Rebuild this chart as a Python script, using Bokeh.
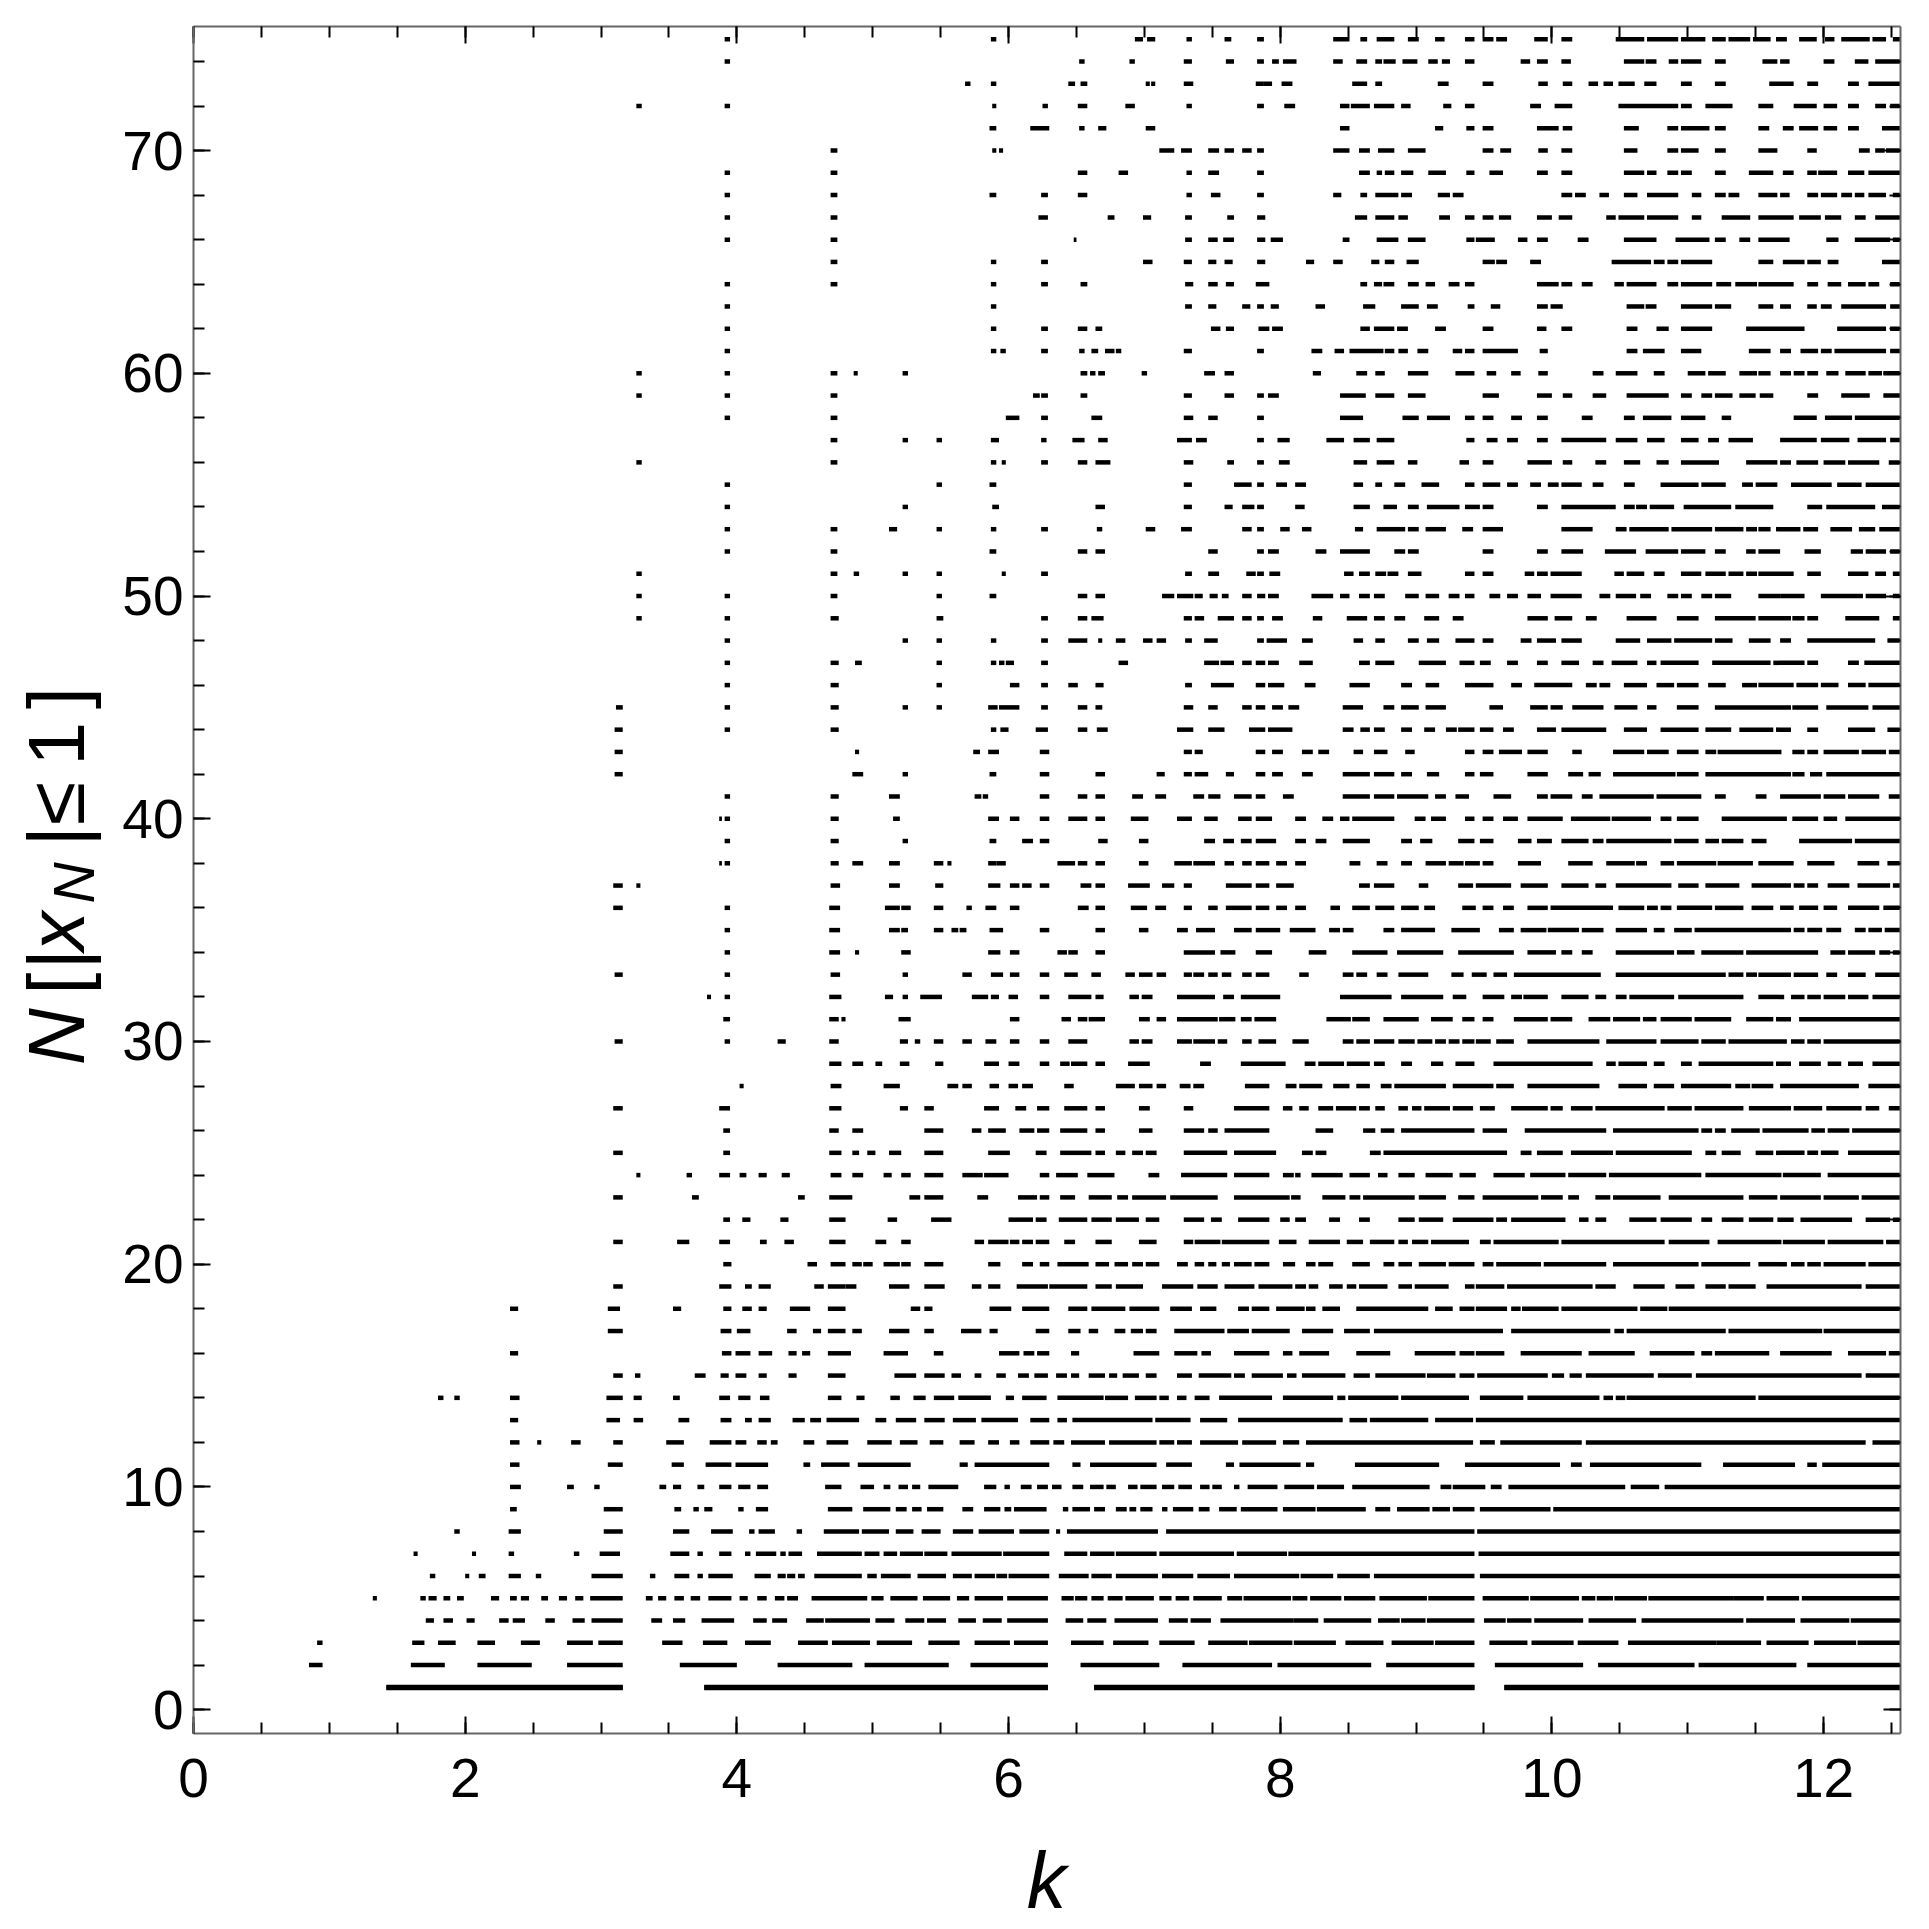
from bokeh.plotting import figure
from bokeh.layouts import row as hrow, column
from bokeh.core.properties import value
from bokeh.models import Range1d, FixedTicker, LinearAxis, ColumnDataSource
from bokeh.embed import file_html
from bokeh.resources import INLINE

x_ticks = [0, 2, 4, 6, 8, 10, 12]
x_minor = [0.5 * i for i in range(26)]
y_ticks = [0, 10, 20, 30, 40, 50, 60, 70]
y_minor = [2 * i for i in range(38)]
x_title = "k"

row_01 = [(1.42,3.16),(3.76,6.29),(6.63,9.43),(9.65,12.566)]
row_02 = [(0.85,0.95),(1.60,1.85),(2.09,2.49),(2.75,3.16),(3.58,4.0),(4.30,4.85),(4.94,5.56),(5.72,6.29),(6.53,7.11),(7.28,7.94),(7.98,8.67),(8.78,9.43),(9.58,10.23),(10.34,11.05),(11.08,11.80),(11.88,12.566)]
row_03 = [(0.91,0.95),(1.61,1.70),(1.80,1.93),(2.09,2.22),(2.41,2.55),(2.75,2.94),(2.98,3.16),(3.45,3.60),(3.75,3.93),(4.06,4.25),(4.45,4.67),(4.70,4.98),(5.03,5.29),(5.41,5.64),(5.75,6.01),(6.04,6.29),(6.46,6.70),(6.77,7.03),(7.11,7.37),(7.47,7.76),(7.77,8.09),(8.10,8.41),(8.48,8.76),(8.82,9.13),(9.14,9.43),(9.54,9.82),(9.85,10.16),(10.19,10.49),(10.56,11.21),(11.21,11.54),(11.58,11.89),(11.93,12.24),(12.25,12.566)]
row_04 = [(1.71,1.77),(1.84,1.91),(2.01,2.07),(2.25,2.32),(2.35,2.44),(2.59,2.66),(2.79,2.88),(2.93,3.16),(3.37,3.45),(3.53,3.62),(3.74,3.98),(4.12,4.22),(4.26,4.37),(4.51,4.64),(4.65,4.98),(5.02,5.16),(5.24,5.38),(5.40,5.54),(5.63,5.76),(5.81,5.95),(5.99,6.29),(6.42,6.55),(6.58,6.72),(6.78,7.10),(7.18,7.32),(7.34,7.49),(7.56,8.10),(8.10,8.28),(8.32,8.67),(8.72,8.88),(8.89,9.07),(9.08,9.43),(9.50,9.66),(9.67,9.85),(9.87,10.23),(10.27,10.62),(10.66,11.41),(11.43,11.79),(11.83,12.19),(12.20,12.566)]
row_05 = [(1.32,1.35),(1.67,1.71),(1.73,1.79),(1.84,1.89),(1.94,1.99),(2.19,2.25),(2.33,2.38),(2.41,2.47),(2.56,2.61),(2.69,2.75),(2.81,2.87),(2.92,3.16),(3.33,3.38),(3.42,3.48),(3.54,3.61),(3.66,3.73),(3.79,3.96),(4.02,4.08),(4.15,4.22),(4.28,4.35),(4.37,4.45),(4.55,4.96),(4.99,5.08),(5.13,5.33),(5.37,5.57),(5.62,5.71),(5.75,5.96),(5.99,6.29),(6.39,6.48),(6.49,6.58),(6.61,6.70),(6.73,6.84),(6.86,7.07),(7.11,7.20),(7.23,7.33),(7.36,7.57),(7.61,7.72),(7.73,8.08),(8.09,8.20),(8.22,8.45),(8.47,8.70),(8.73,9.08),(9.09,9.43),(9.49,9.83),(9.84,10.20),(10.22,10.32),(10.33,10.45),(10.46,10.70),(10.71,11.34),(11.34,11.56),(11.58,11.82),(11.84,12.566)]
row_06 = [(1.74,1.78),(2.0,2.03),(2.10,2.15),(2.32,2.41),(2.52,2.56),(2.93,3.16),(3.36,3.40),(3.54,3.65),(3.71,3.75),(3.79,3.97),(4.13,4.25),(4.30,4.36),(4.37,4.43),(4.45,4.50),(4.57,4.92),(4.96,5.03),(5.06,5.28),(5.33,5.54),(5.59,5.73),(5.75,5.90),(5.91,5.99),(6.0,6.30),(6.37,6.59),(6.61,6.76),(6.79,7.10),(7.13,7.36),(7.39,7.63),(7.66,8.14),(8.15,8.39),(8.42,8.66),(8.69,9.43),(9.47,12.566)]
row_07 = [(1.62,1.65),(2.05,2.08),(2.32,2.36),(2.80,2.84),(2.99,3.14),(3.51,3.65),(3.71,3.75),(3.87,3.96),(4.06,4.10),(4.14,4.29),(4.32,4.36),(4.38,4.48),(4.59,4.92),(4.94,5.05),(5.08,5.18),(5.20,5.37),(5.38,5.55),(5.58,5.95),(5.96,6.30),(6.41,6.58),(6.60,6.78),(6.79,7.09),(7.11,7.66),(7.68,8.05),(8.06,9.43),(9.46,12.566)]
row_08 = [(1.92,1.96),(2.32,2.41),(3.02,3.16),(3.53,3.65),(3.81,3.97),(4.09,4.13),(4.16,4.28),(4.44,4.48),(4.64,4.90),(4.92,5.12),(5.17,5.30),(5.36,5.50),(5.59,5.74),(5.78,6.04),(6.08,6.30),(6.35,6.38),(6.43,7.10),(7.16,9.43),(9.45,12.566)]
row_09 = [(2.33,2.38),(3.02,3.16),(3.54,3.59),(3.68,3.72),(3.76,3.82),(4.01,4.05),(4.14,4.23),(4.67,4.85),(4.93,5.13),(5.17,5.25),(5.29,5.36),(5.40,5.52),(5.66,5.74),(5.82,5.94),(5.97,6.02),(6.04,6.28),(6.40,6.44),(6.47,6.60),(6.63,6.71),(6.79,6.87),(6.89,6.94),(6.97,7.06),(7.13,7.17),(7.21,7.36),(7.40,7.48),(7.55,7.68),(7.71,7.98),(8.02,8.26),(8.27,8.63),(8.70,8.81),(8.86,9.10),(9.12,9.25),(9.27,9.43),(9.47,9.99),(10.01,12.566)]
row_10 = [(2.33,2.41),(2.75,2.80),(2.95,2.99),(3.43,3.48),(3.53,3.59),(3.71,3.76),(3.87,3.96),(4.01,4.10),(4.15,4.23),(4.65,4.77),(4.91,5.01),(5.08,5.13),(5.19,5.26),(5.29,5.35),(5.41,5.63),(5.82,5.91),(5.97,6.01),(6.09,6.17),(6.21,6.29),(6.32,6.39),(6.47,6.55),(6.60,6.70),(6.72,6.79),(6.88,6.95),(6.97,7.09),(7.13,7.22),(7.25,7.35),(7.41,7.48),(7.50,7.57),(7.66,7.70),(7.76,7.98),(8.03,8.25),(8.27,8.47),(8.53,9.10),(9.18,9.26),(9.27,9.51),(9.55,9.63),(9.68,10.54),(10.58,10.79),(10.83,12.566)]
row_11 = [(2.33,2.40),(3.05,3.16),(3.52,3.61),(3.77,3.96),(3.99,4.23),(4.49,4.54),(4.62,4.83),(4.89,5.28),(5.64,5.70),(5.75,6.30),(6.47,6.53),(6.60,7.09),(7.16,7.35),(7.60,7.66),(7.70,8.15),(8.19,8.25),(8.55,9.17),(9.36,10.06),(10.14,10.22),(10.28,11.10),(11.26,11.79),(11.88,11.95),(11.99,12.566)]
row_12 = [(2.33,2.40),(2.53,2.56),(2.78,2.85),(3.09,3.16),(3.48,3.61),(3.80,3.96),(3.99,4.07),(4.15,4.22),(4.25,4.30),(4.49,4.57),(4.66,4.82),(4.96,5.14),(5.20,5.33),(5.42,5.52),(5.64,5.75),(5.85,5.93),(6.01,6.08),(6.16,6.30),(6.33,6.41),(6.46,6.71),(6.74,7.09),(7.11,7.22),(7.24,7.35),(7.41,7.69),(7.72,7.97),(8.02,8.14),(8.19,9.42),(9.47,9.58),(9.62,10.22),(10.25,12.31),(12.36,12.566)]
row_13 = [(2.33,2.39),(3.04,3.14),(3.24,3.31),(3.57,3.65),(3.88,3.96),(4.06,4.11),(4.16,4.25),(4.41,4.50),(4.54,4.62),(4.66,4.90),(5.02,5.10),(5.17,5.32),(5.38,5.53),(5.59,5.76),(5.80,6.07),(6.16,6.30),(6.36,6.43),(6.47,7.06),(7.08,7.34),(7.41,7.61),(7.69,8.46),(8.51,8.64),(8.66,9.09),(9.14,9.42),(9.44,12.566)]
row_14 = [(1.80,1.84),(1.92,1.96),(2.33,2.40),(3.04,3.16),(3.24,3.30),(3.53,3.58),(3.87,3.95),(4.01,4.10),(4.17,4.24),(4.67,4.77),(4.88,4.94),(5.13,5.20),(5.30,5.39),(5.45,5.60),(5.63,5.87),(5.98,6.04),(6.10,6.28),(6.36,6.70),(6.71,6.88),(6.93,7.09),(7.11,7.18),(7.24,7.31),(7.37,7.48),(7.55,7.94),(8.02,8.39),(8.42,8.48),(8.50,8.87),(8.89,9.39),(9.47,9.79),(9.82,10.35),(10.38,10.45),(10.47,10.54),(10.55,11.50),(11.52,12.566)]
row_15 = [(3.09,3.16),(3.25,3.29),(3.69,3.77),(3.88,3.94),(3.99,4.07),(4.16,4.22),(4.38,4.44),(4.67,4.80),(5.16,5.32),(5.38,5.53),(5.58,5.65),(5.75,5.80),(5.91,5.98),(6.07,6.15),(6.19,6.29),(6.35,6.43),(6.46,6.52),(6.59,6.71),(6.74,6.80),(6.84,6.96),(7.01,7.09),(7.24,7.35),(7.40,7.64),(7.66,7.74),(7.79,8.02),(8.05,8.12),(8.16,8.48),(8.54,8.66),(8.70,9.07),(9.08,9.29),(9.32,9.43),(9.45,9.97),(10.0,10.09),(10.13,10.22),(10.25,10.75),(10.78,11.03),(11.06,12.28),(12.31,12.566)]
row_16 = [(2.33,2.39),(3.89,3.96),(3.99,4.10),(4.16,4.26),(4.38,4.44),(4.48,4.54),(4.67,4.84),(5.08,5.26),(5.45,5.52),(5.93,6.08),(6.11,6.19),(6.21,6.30),(6.46,6.52),(6.92,7.11),(7.22,7.39),(7.42,7.49),(7.66,7.92),(8.02,8.09),(8.14,8.36),(8.56,8.81),(8.99,9.29),(9.32,9.43),(9.44,9.65),(9.77,10.22),(10.27,10.61),(10.72,11.05),(11.10,11.18),(11.20,11.60),(11.68,12.06),(12.18,12.46),(12.48,12.566)]
row_17 = [(3.05,3.16),(3.88,3.96),(4.0,4.10),(4.37,4.44),(4.56,4.62),(4.67,4.80),(4.85,4.92),(5.12,5.27),(5.38,5.45),(5.65,5.80),(5.86,5.92),(6.20,6.30),(6.44,6.53),(6.59,6.66),(6.78,6.86),(6.90,6.99),(7.01,7.09),(7.22,7.59),(7.61,7.77),(7.79,8.07),(8.16,8.39),(8.47,8.66),(8.69,9.64),(9.70,10.43),(10.46,10.53),(10.55,11.28),(11.30,11.99),(12.0,12.566)]
row_18 = [(2.33,2.39),(3.05,3.14),(3.53,3.59),(3.90,3.96),(4.04,4.11),(4.16,4.22),(4.39,4.54),(4.67,4.80),(5.28,5.35),(5.38,5.44),(5.86,6.02),(6.10,6.30),(6.44,6.58),(6.61,6.86),(6.89,7.11),(7.19,7.35),(7.41,7.53),(7.69,7.77),(7.79,7.92),(7.97,8.18),(8.19,8.26),(8.31,8.44),(8.56,9.09),(9.14,9.27),(9.32,9.43),(9.44,9.67),(9.70,9.77),(9.78,10.05),(10.07,10.63),(10.65,10.85),(10.86,12.566)]
row_19 = [(3.09,3.16),(3.87,3.96),(4.06,4.11),(4.16,4.25),(4.57,4.64),(4.67,4.80),(4.80,4.88),(5.12,5.27),(5.38,5.53),(5.73,5.80),(5.85,5.94),(6.06,6.29),(6.30,6.58),(6.64,6.76),(6.79,6.99),(7.13,7.36),(7.39,7.54),(7.59,7.81),(7.84,8.09),(8.11,8.19),(8.21,8.28),(8.36,8.46),(8.49,8.56),(8.58,8.79),(8.87,8.97),(8.99,9.24),(9.36,9.43),(9.44,9.65),(9.67,10.30),(10.32,10.47),(10.60,10.83),(10.91,11.05),(11.13,11.28),(11.30,11.50),(11.58,12.28),(12.31,12.566)]
row_20 = [(3.90,3.96),(4.52,4.59),(4.69,4.80),(4.85,4.92),(4.93,5.0),(5.08,5.20),(5.21,5.28),(5.38,5.52),(5.85,5.94),(6.10,6.18),(6.23,6.30),(6.36,6.59),(6.64,6.74),(6.78,6.88),(6.91,6.99),(7.01,7.11),(7.24,7.32),(7.37,7.44),(7.47,7.53),(7.57,7.63),(7.66,7.79),(7.81,7.92),(8.02,8.11),(8.19,8.26),(8.28,8.39),(8.53,8.66),(8.76,8.84),(8.87,8.97),(9.02,9.22),(9.24,9.43),(9.49,9.57),(9.59,9.92),(9.94,10.40),(10.45,11.08),(11.10,11.46),(11.52,11.73),(11.76,11.86),(11.88,11.98),(12.0,12.31),(12.33,12.566)]
row_21 = [(3.09,3.16),(3.56,3.65),(3.87,3.95),(4.17,4.22),(4.35,4.42),(4.68,4.80),(5.02,5.10),(5.21,5.28),(5.75,5.82),(5.85,6.0),(6.01,6.08),(6.10,6.18),(6.20,6.30),(6.41,6.49),(6.64,6.76),(6.96,7.09),(7.29,7.36),(7.37,7.56),(7.57,7.92),(7.99,8.12),(8.21,8.44),(8.49,8.61),(8.66,8.84),(8.87,8.94),(8.97,9.09),(9.11,9.39),(9.47,9.55),(9.57,10.05),(10.07,10.83),(10.86,11.16),(11.22,11.69),(11.70,12.01),(12.03,12.44),(12.46,12.566)]
row_22 = [(3.90,3.95),(4.04,4.10),(4.32,4.38),(4.68,4.80),(5.11,5.18),(5.43,5.58),(6.0,6.18),(6.20,6.28),(6.37,6.58),(6.61,6.76),(6.79,6.96),(7.01,7.11),(7.29,7.44),(7.49,7.57),(7.69,7.92),(8.0,8.07),(8.11,8.19),(8.36,8.44),(8.58,8.66),(8.87,8.99),(9.02,9.20),(9.27,9.57),(9.59,9.67),(9.70,10.10),(10.20,10.27),(10.32,10.40),(10.57,10.77),(10.80,11.03),(11.10,11.18),(11.25,11.41),(11.45,11.63),(11.66,11.78),(11.83,12.21),(12.31,12.49),(12.51,12.566)]
row_23 = [(3.09,3.16),(3.67,3.72),(4.45,4.50),(4.68,4.85),(5.27,5.35),(5.38,5.52),(5.77,5.85),(6.07,6.21),(6.23,6.30),(6.38,6.49),(6.59,6.76),(6.80,6.88),(6.91,7.16),(7.19,7.54),(7.66,8.07),(8.08,8.15),(8.31,8.48),(8.51,8.59),(8.61,8.99),(9.02,9.22),(9.31,9.43),(9.49,9.90),(9.92,10.08),(10.12,10.20),(10.32,10.43),(10.45,10.80),(10.86,11.41),(11.45,11.66),(11.68,11.98),(12.0,12.26),(12.28,12.566)]
row_24 = [(3.26,3.29),(3.63,3.67),(3.87,3.95),(4.02,4.07),(4.16,4.22),(4.33,4.39),(4.69,4.77),(4.85,4.93),(5.08,5.14),(5.21,5.28),(5.38,5.52),(5.66,5.81),(5.82,6.0),(6.23,6.30),(6.35,6.51),(6.58,6.78),(7.03,7.11),(7.27,7.61),(7.66,7.92),(8.02,8.10),(8.11,8.15),(8.23,8.46),(8.51,8.66),(8.72,8.79),(8.87,8.99),(9.07,9.27),(9.32,9.44),(9.57,9.80),(9.84,10.10),(10.12,10.40),(10.42,11.10),(11.13,11.69),(11.70,11.98),(12.03,12.566)]
row_25 = [(3.09,3.16),(3.90,3.95),(4.68,4.77),(4.85,4.90),(4.96,5.02),(5.12,5.21),(5.38,5.52),(5.85,6.01),(6.20,6.28),(6.38,6.61),(6.64,6.71),(6.79,6.86),(6.91,6.99),(7.01,7.09),(7.29,7.61),(7.66,7.97),(8.16,8.24),(8.26,8.34),(8.66,8.74),(8.76,9.67),(9.77,9.85),(9.89,10.08),(10.14,10.45),(10.47,11.03),(11.13,11.21),(11.25,11.39),(11.50,11.63),(11.65,11.86),(11.88,11.96),(11.98,12.11),(12.18,12.566)]
row_26 = [(3.90,3.95),(4.68,4.75),(4.85,4.93),(5.38,5.52),(5.73,5.80),(5.85,5.98),(6.08,6.19),(6.21,6.30),(6.38,6.58),(6.64,6.71),(6.96,7.06),(7.29,7.44),(7.47,7.54),(7.59,7.92),(8.26,8.39),(8.61,8.70),(8.74,8.84),(8.89,9.43),(9.49,9.67),(9.80,10.40),(10.45,11.08),(11.10,11.18),(11.20,11.28),(11.32,11.53),(11.55,11.89),(11.91,12.01),(12.03,12.19),(12.21,12.566)]
row_27 = [(3.09,3.16),(3.87,3.95),(4.68,4.77),(5.20,5.26),(5.38,5.45),(5.82,5.93),(6.05,6.13),(6.21,6.30),(6.41,6.58),(6.64,6.71),(6.96,7.04),(7.29,7.36),(7.66,7.92),(8.02,8.09),(8.14,8.21),(8.28,8.39),(8.41,8.56),(8.58,8.66),(8.70,8.77),(8.87,8.94),(8.97,9.04),(9.06,9.25),(9.27,9.42),(9.47,9.58),(9.70,9.97),(9.99,10.08),(10.14,10.30),(10.32,10.83),(10.85,11.03),(11.05,11.41),(11.45,11.76),(11.78,11.99),(12.02,12.28),(12.31,12.41),(12.48,12.566)]
row_28 = [(4.02,4.05),(4.69,4.77),(5.08,5.20),(5.55,5.63),(5.66,5.73),(5.86,5.93),(6.0,6.07),(6.10,6.18),(6.41,6.48),(6.79,6.93),(6.96,7.06),(7.09,7.16),(7.26,7.34),(7.36,7.44),(7.74,7.92),(8.04,8.12),(8.14,8.31),(8.39,8.51),(8.56,8.66),(8.74,8.82),(8.84,9.22),(9.27,9.57),(9.59,9.72),(9.82,10.35),(10.49,10.70),(10.75,10.90),(10.95,11.32),(11.35,11.46),(11.47,11.63),(11.68,12.26),(12.33,12.566)]
row_29 = [(4.68,4.77),(4.85,4.93),(5.02,5.07),(5.20,5.27),(5.46,5.52),(5.82,5.93),(6.0,6.08),(6.23,6.30),(6.38,6.45),(6.46,6.58),(6.64,6.71),(6.88,7.04),(7.41,7.49),(7.71,8.04),(8.18,8.26),(8.28,8.47),(8.49,8.66),(8.69,8.77),(8.89,8.97),(9.11,9.20),(9.29,9.43),(9.57,10.30),(10.40,10.47),(10.49,10.70),(10.75,10.83),(10.95,11.03),(11.08,11.63),(11.65,11.76),(11.82,11.98),(12.03,12.13),(12.18,12.29),(12.36,12.566)]
row_30 = [(3.10,3.16),(3.91,3.95),(4.30,4.36),(4.68,4.75),(5.20,5.26),(5.31,5.35),(5.45,5.52),(5.66,5.73),(5.83,5.91),(6.01,6.08),(6.23,6.30),(6.44,6.58),(6.89,6.96),(6.98,7.06),(7.24,7.35),(7.36,7.52),(7.54,7.61),(7.72,7.79),(7.84,7.97),(8.09,8.21),(8.46,8.54),(8.56,8.66),(8.69,8.84),(8.87,8.99),(9.01,9.12),(9.14,9.22),(9.24,9.32),(9.34,9.43),(9.44,9.55),(9.59,9.72),(9.82,10.35),(10.40,10.77),(10.80,11.08),(11.10,11.28),(11.30,11.73),(11.76,11.86),(11.88,11.98),(12.0,12.566)]
row_31 = [(3.90,3.95),(4.68,4.75),(4.77,4.80),(5.19,5.28),(6.01,6.08),(6.39,6.46),(6.51,6.58),(6.59,6.71),(6.96,7.04),(7.09,7.16),(7.24,7.54),(7.55,7.67),(7.71,7.79),(7.81,7.97),(8.34,8.52),(8.53,8.66),(8.76,9.02),(9.11,9.27),(9.34,9.43),(9.49,9.57),(9.72,9.97),(9.99,10.15),(10.27,10.43),(10.45,10.65),(10.67,10.77),(10.80,11.03),(11.05,11.32),(11.43,11.63),(11.65,11.76),(11.82,12.566)]
row_32 = [(3.78,3.81),(3.91,3.95),(4.68,4.77),(5.09,5.15),(5.22,5.26),(5.35,5.51),(5.73,5.85),(5.87,5.93),(6.0,6.07),(6.23,6.30),(6.44,6.61),(6.64,6.70),(6.89,6.96),(6.98,7.06),(7.24,7.52),(7.58,7.66),(7.71,8.0),(8.44,8.82),(8.89,9.20),(9.27,9.37),(9.49,9.65),(9.70,9.78),(9.79,9.97),(10.07,10.27),(10.32,10.40),(10.47,10.55),(10.57,10.90),(10.93,11.41),(11.52,11.71),(11.76,11.86),(11.88,11.98),(12.0,12.16),(12.18,12.33),(12.36,12.566)]
row_33 = [(3.10,3.16),(3.91,3.95),(4.69,4.76),(5.22,5.26),(5.66,5.73),(5.87,5.96),(6.01,6.08),(6.23,6.30),(6.41,6.51),(6.61,6.68),(6.86,6.93),(6.96,7.06),(7.09,7.16),(7.29,7.35),(7.36,7.44),(7.47,7.54),(7.57,7.64),(7.72,7.79),(7.82,7.92),(8.14,8.21),(8.46,8.54),(8.56,8.64),(8.71,8.79),(8.87,9.09),(9.26,9.35),(9.41,9.52),(9.57,9.67),(9.72,10.36),(10.47,11.28),(11.30,11.41),(11.43,11.51),(11.52,11.76),(11.78,11.96),(12.02,12.10),(12.18,12.31),(12.38,12.566)]
row_34 = [(3.91,3.95),(4.68,4.76),(4.87,4.90),(5.21,5.28),(5.85,5.94),(6.01,6.08),(6.36,6.43),(6.44,6.51),(6.64,6.71),(7.29,7.52),(7.56,7.67),(7.82,7.94),(8.21,8.34),(8.53,8.79),(8.86,9.20),(9.31,9.72),(9.82,10.03),(10.07,10.15),(10.22,10.30),(10.47,10.90),(10.92,11.05),(11.10,11.41),(11.43,11.96),(12.05,12.16),(12.18,12.38),(12.41,12.49),(12.51,12.566)]
row_35 = [(3.91,3.95),(4.68,4.76),(5.12,5.20),(5.21,5.26),(5.45,5.52),(5.58,5.63),(5.64,5.69),(5.86,5.96),(6.23,6.30),(6.64,6.71),(6.96,7.03),(7.24,7.32),(7.38,7.52),(7.66,7.79),(7.82,8.0),(8.07,8.26),(8.36,8.44),(8.46,8.54),(8.76,8.84),(8.89,9.14),(9.26,9.47),(9.61,9.72),(9.77,9.96),(9.97,10.20),(10.22,10.38),(10.47,10.70),(10.75,10.83),(10.90,11.03),(11.05,11.76),(11.78,11.86),(11.88,11.99),(12.02,12.13),(12.23,12.31),(12.33,12.43),(12.45,12.566)]
row_36 = [(3.09,3.16),(3.91,3.95),(4.68,4.76),(5.09,5.20),(5.21,5.28),(5.45,5.52),(5.69,5.73),(5.83,5.91),(6.01,6.08),(6.51,6.59),(6.64,6.71),(6.90,7.02),(7.08,7.16),(7.29,7.35),(7.47,7.54),(7.60,7.79),(7.82,7.92),(7.97,8.05),(8.11,8.19),(8.37,8.44),(8.53,8.66),(8.70,8.84),(8.89,9.02),(9.06,9.14),(9.34,9.44),(9.49,9.57),(9.64,9.72),(9.82,9.97),(9.99,10.45),(10.49,10.68),(10.70,10.78),(10.80,10.88),(10.92,11.18),(11.20,11.41),(11.47,11.63),(11.68,11.78),(11.82,11.96),(12.0,12.10),(12.18,12.41),(12.44,12.566)]
row_37 = [(3.09,3.16),(3.26,3.29),(4.69,4.76),(5.12,5.20),(5.46,5.52),(5.85,5.94),(6.01,6.08),(6.10,6.17),(6.23,6.30),(6.53,6.61),(6.64,6.71),(6.88,7.04),(7.13,7.22),(7.29,7.35),(7.60,7.79),(7.82,7.92),(7.97,8.10),(8.58,8.66),(8.69,8.84),(9.02,9.09),(9.31,9.42),(9.44,9.70),(9.77,9.97),(10.07,10.27),(10.32,10.40),(10.47,10.88),(10.93,11.08),(11.13,11.38),(11.47,11.76),(11.78,11.86),(11.88,11.96),(12.03,12.19),(12.25,12.49),(12.51,12.566)]
row_38 = [(3.87,3.89),(3.91,3.95),(4.69,4.75),(4.85,4.93),(5.12,5.20),(5.45,5.52),(5.55,5.58),(5.85,5.91),(5.91,5.98),(6.36,6.49),(6.51,6.58),(6.64,6.71),(6.96,7.03),(7.22,7.35),(7.36,7.52),(7.59,7.66),(7.72,7.79),(7.82,7.92),(7.97,8.05),(8.11,8.19),(8.51,8.59),(8.71,8.79),(8.89,8.97),(9.07,9.22),(9.24,9.35),(9.36,9.47),(9.49,9.57),(9.75,9.92),(10.12,10.30),(10.40,10.61),(10.62,10.70),(10.80,10.90),(10.92,11.21),(11.22,11.48),(11.52,11.78),(11.88,12.08),(12.25,12.41),(12.47,12.566)]
row_39 = [(3.91,3.95),(4.69,4.75),(5.22,5.26),(5.86,5.91),(6.10,6.18),(6.23,6.30),(6.66,6.73),(6.96,7.03),(7.44,7.52),(7.58,7.66),(7.71,7.79),(7.82,7.97),(8.11,8.19),(8.26,8.34),(8.46,8.66),(8.89,8.97),(9.03,9.12),(9.31,9.43),(9.47,9.57),(9.75,9.85),(9.89,10.0),(10.07,10.27),(10.30,10.38),(10.40,10.88),(10.90,11.08),(11.13,11.23),(11.25,11.41),(11.47,11.58),(11.82,12.21),(12.23,12.566)]
row_40 = [(3.87,3.89),(3.91,3.95),(4.69,4.75),(5.15,5.20),(5.85,5.93),(6.01,6.08),(6.23,6.30),(6.44,6.58),(6.64,6.71),(6.90,7.03),(7.24,7.35),(7.44,7.54),(7.69,7.79),(7.82,7.94),(8.11,8.19),(8.31,8.39),(8.44,8.51),(8.53,8.84),(8.99,9.07),(9.11,9.22),(9.36,9.43),(9.49,9.57),(9.64,9.75),(9.82,10.08),(10.14,10.43),(10.44,10.73),(10.80,10.88),(10.92,11.08),(11.25,11.73),(11.77,11.96),(12.0,12.10),(12.16,12.566)]
row_41 = [(3.91,3.95),(4.69,4.75),(5.12,5.20),(5.75,5.80),(5.81,5.85),(6.23,6.30),(6.51,6.58),(6.64,6.71),(6.91,6.99),(7.08,7.16),(7.36,7.44),(7.47,7.56),(7.66,7.79),(7.82,7.89),(8.02,8.10),(8.46,8.66),(8.69,8.84),(8.86,9.09),(9.14,9.22),(9.29,9.39),(9.57,9.70),(9.89,9.97),(9.99,10.15),(10.22,10.30),(10.35,10.75),(10.77,11.10),(11.20,11.28),(11.50,11.58),(11.68,11.98),(12.0,12.16),(12.18,12.41),(12.48,12.566)]
row_42 = [(3.10,3.16),(4.85,4.93),(5.22,5.26),(5.86,5.91),(6.23,6.30),(6.64,6.71),(7.09,7.15),(7.29,7.35),(7.37,7.47),(7.60,7.66),(7.82,7.89),(7.94,8.02),(8.16,8.24),(8.46,8.66),(8.69,8.84),(8.89,8.97),(9.08,9.17),(9.36,9.43),(9.47,9.57),(9.82,9.97),(10.12,10.23),(10.27,10.36),(10.45,10.91),(10.92,11.08),(11.13,11.76),(11.77,11.86),(11.90,11.99),(12.02,12.566)]
row_43 = [(3.10,3.16),(4.87,4.90),(5.74,5.79),(5.85,5.93),(6.23,6.30),(7.29,7.35),(7.37,7.43),(7.82,7.89),(7.94,8.02),(8.16,8.24),(8.28,8.36),(8.54,8.61),(8.69,8.79),(8.92,8.99),(9.36,9.43),(9.49,9.57),(9.61,9.78),(9.82,9.97),(10.15,10.22),(10.45,10.68),(10.70,10.86),(10.92,11.08),(11.13,11.21),(11.22,11.69),(11.77,11.86),(11.88,11.96),(12.0,12.26),(12.28,12.46),(12.48,12.566)]
row_44 = [(3.10,3.16),(3.91,3.95),(4.69,4.75),(5.87,5.91),(5.94,6.0),(6.20,6.29),(6.51,6.58),(6.65,6.73),(7.24,7.36),(7.47,7.59),(7.77,7.89),(7.91,8.09),(8.46,8.54),(8.59,8.66),(8.69,8.77),(8.89,8.97),(9.06,9.14),(9.22,9.30),(9.31,9.43),(9.47,9.57),(9.64,9.72),(9.89,10.03),(10.07,10.40),(10.53,10.70),(10.80,11.08),(11.13,11.32),(11.38,11.63),(11.65,11.76),(11.88,11.96),(12.18,12.38),(12.47,12.566)]
row_45 = [(3.11,3.16),(3.91,3.95),(4.69,4.75),(5.22,5.26),(5.47,5.51),(5.85,5.92),(5.93,6.08),(6.24,6.29),(6.51,6.58),(6.64,6.69),(7.29,7.36),(7.47,7.54),(7.72,7.79),(7.82,7.89),(7.94,8.02),(8.06,8.14),(8.46,8.61),(8.76,8.84),(8.89,9.02),(9.07,9.22),(9.54,9.64),(9.84,9.97),(9.99,10.08),(10.15,10.38),(10.46,10.63),(10.70,10.77),(10.92,11.08),(11.20,11.76),(11.77,11.96),(12.02,12.33),(12.36,12.566)]
row_46 = [(3.91,3.95),(4.69,4.75),(5.47,5.51),(6.01,6.08),(6.24,6.29),(6.44,6.51),(6.64,6.70),(7.30,7.35),(7.49,7.66),(7.82,7.89),(7.91,8.03),(8.18,8.26),(8.51,8.66),(8.89,8.97),(9.07,9.17),(9.36,9.57),(9.70,9.78),(9.87,10.15),(10.25,10.33),(10.35,10.43),(10.53,10.70),(10.77,10.90),(10.92,11.08),(11.15,11.28),(11.40,11.51),(11.52,11.78),(11.80,11.96),(11.98,12.11),(12.18,12.31),(12.33,12.566)]
row_47 = [(3.91,3.95),(4.69,4.75),(4.87,4.92),(5.47,5.51),(5.87,5.91),(5.93,5.97),(5.98,6.04),(6.24,6.29),(6.81,6.88),(7.44,7.55),(7.56,7.66),(7.72,7.79),(7.82,7.89),(7.91,7.99),(8.14,8.24),(8.58,8.66),(8.70,8.84),(9.02,9.22),(9.32,9.43),(9.47,9.55),(9.67,9.75),(9.89,9.97),(10.07,10.20),(10.30,10.38),(10.44,10.63),(10.70,10.77),(10.80,11.08),(11.18,11.61),(11.63,11.86),(11.88,11.96),(12.18,12.26),(12.30,12.566)]
row_48 = [(3.91,3.95),(5.22,5.26),(5.47,5.51),(5.87,5.91),(6.24,6.29),(6.44,6.58),(6.66,6.69),(6.79,6.86),(6.99,7.06),(7.09,7.16),(7.30,7.35),(7.44,7.54),(7.83,7.88),(7.90,8.05),(8.16,8.24),(8.54,8.61),(8.70,8.77),(8.94,9.02),(9.08,9.17),(9.29,9.43),(9.49,9.57),(9.77,9.85),(9.89,10.03),(10.07,10.22),(10.47,10.65),(10.70,10.88),(10.90,11.18),(11.20,11.33),(11.45,11.61),(11.68,11.76),(11.88,12.38),(12.47,12.566)]
row_49 = [(3.26,3.30),(3.91,3.95),(4.69,4.75),(5.47,5.52),(6.24,6.29),(6.51,6.58),(6.61,6.70),(7.29,7.35),(7.37,7.44),(7.54,7.66),(7.72,7.79),(7.83,7.88),(7.94,8.02),(8.24,8.31),(8.49,8.64),(8.69,8.77),(8.84,8.92),(9.06,9.17),(9.27,9.35),(9.82,9.97),(10.02,10.15),(10.25,10.33),(10.55,10.77),(10.92,11.08),(11.20,11.50),(11.52,11.76),(11.77,11.86),(11.88,11.96),(12.16,12.41),(12.51,12.566)]
row_50 = [(3.26,3.30),(3.91,3.95),(4.69,4.74),(5.47,5.51),(5.86,5.91),(6.51,6.58),(6.64,6.71),(7.13,7.22),(7.24,7.36),(7.37,7.43),(7.48,7.54),(7.57,7.62),(7.72,7.79),(7.83,7.89),(7.91,7.99),(8.23,8.39),(8.44,8.51),(8.58,8.66),(8.69,8.77),(8.92,9.02),(9.07,9.17),(9.24,9.32),(9.36,9.43),(9.54,9.62),(9.67,9.75),(9.82,9.92),(9.99,10.22),(10.35,10.43),(10.47,10.62),(10.65,10.73),(10.85,10.93),(10.95,11.03),(11.10,11.18),(11.20,11.32),(11.52,11.68),(11.68,11.86),(11.98,12.29),(12.31,12.46),(12.51,12.566)]
row_51 = [(3.26,3.30),(4.69,4.74),(4.86,4.90),(5.22,5.26),(5.47,5.51),(5.95,5.98),(6.24,6.29),(7.30,7.35),(7.47,7.55),(7.75,7.82),(7.83,7.88),(7.92,8.0),(8.47,8.54),(8.58,8.66),(8.70,8.78),(8.79,8.87),(8.94,9.04),(9.36,9.43),(9.49,9.57),(9.80,9.87),(9.89,9.97),(9.99,10.22),(10.46,10.53),(10.55,10.68),(10.75,10.83),(10.95,11.10),(11.13,11.28),(11.30,11.41),(11.43,11.51),(11.52,11.78),(11.88,11.98),(12.18,12.33),(12.38,12.46),(12.51,12.566)]
row_52 = [(3.91,3.95),(4.69,4.74),(5.86,5.91),(6.51,6.58),(6.64,6.71),(7.47,7.54),(7.83,7.88),(7.91,7.99),(8.26,8.34),(8.44,8.66),(8.84,8.92),(8.94,9.02),(9.49,9.57),(9.89,9.97),(10.07,10.23),(10.39,10.62),(10.69,10.93),(10.95,11.13),(11.20,11.28),(11.43,11.50),(11.52,11.68),(11.86,11.98),(12.20,12.29),(12.31,12.46),(12.49,12.566)]
row_53 = [(3.91,3.95),(4.69,4.74),(5.12,5.18),(5.47,5.51),(5.87,5.91),(6.24,6.29),(6.65,6.69),(7.01,7.08),(7.27,7.35),(7.72,7.79),(7.83,7.88),(8.0,8.07),(8.16,8.23),(8.55,8.61),(8.71,8.92),(8.94,9.02),(9.07,9.22),(9.34,9.42),(9.49,9.64),(10.07,10.30),(10.47,10.55),(10.57,10.86),(10.88,11.18),(11.20,11.41),(11.43,11.51),(11.52,11.61),(11.65,11.83),(11.85,11.96),(12.05,12.21),(12.26,12.38),(12.41,12.566)]
row_54 = [(3.91,3.95),(5.22,5.26),(5.88,5.93),(6.64,6.71),(7.29,7.35),(7.59,7.65),(7.72,7.81),(7.83,7.88),(8.11,8.18),(8.54,8.66),(8.76,8.86),(8.94,9.02),(9.08,9.32),(9.36,9.47),(9.49,9.57),(9.89,9.97),(10.07,10.47),(10.53,10.61),(10.62,10.70),(10.72,10.90),(10.97,11.32),(11.35,11.63),(11.88,11.99),(12.02,12.38),(12.43,12.566)]
row_55 = [(3.91,3.95),(5.47,5.51),(5.86,5.91),(7.29,7.35),(7.66,7.79),(7.83,7.88),(7.97,8.05),(8.11,8.19),(8.54,8.61),(8.70,8.75),(8.84,8.92),(9.04,9.17),(9.36,9.43),(9.49,9.62),(9.67,9.75),(9.84,9.92),(9.97,10.05),(10.07,10.22),(10.30,10.38),(10.53,10.61),(10.80,11.08),(11.10,11.28),(11.40,11.48),(11.50,11.66),(11.76,12.06),(12.10,12.28),(12.31,12.566)]
row_56 = [(3.26,3.30),(4.69,4.74),(5.87,5.91),(5.95,5.98),(6.24,6.29),(6.51,6.58),(6.64,6.75),(7.29,7.36),(7.61,7.66),(7.83,7.88),(7.99,8.07),(8.54,8.64),(8.71,8.84),(8.94,9.01),(9.32,9.39),(9.49,9.57),(9.82,10.0),(10.08,10.15),(10.32,10.40),(10.53,10.65),(10.77,10.86),(10.95,11.23),(11.43,11.66),(11.68,11.76),(11.80,11.96),(12.0,12.16),(12.18,12.41),(12.48,12.566)]
row_57 = [(4.69,4.74),(5.22,5.26),(5.47,5.51),(5.87,5.93),(6.24,6.28),(6.47,6.56),(6.66,6.73),(7.24,7.35),(7.38,7.46),(7.83,7.88),(7.98,8.07),(8.34,8.47),(8.54,8.66),(8.71,8.84),(9.37,9.43),(9.52,9.60),(9.67,9.75),(9.89,9.97),(10.07,10.40),(10.47,10.63),(10.70,10.83),(10.95,11.08),(11.15,11.23),(11.30,11.48),(11.68,11.95),(11.98,12.19),(12.25,12.46),(12.49,12.566)]
row_58 = [(3.91,3.95),(4.69,4.74),(5.98,6.08),(6.24,6.29),(6.61,6.69),(7.29,7.36),(7.47,7.54),(7.83,7.88),(8.44,8.61),(8.90,9.02),(9.08,9.25),(9.36,9.43),(9.49,9.57),(9.70,9.78),(9.89,9.97),(10.22,10.30),(10.53,10.61),(10.67,10.88),(10.95,11.13),(11.25,11.32),(11.78,11.95),(12.01,12.21),(12.23,12.566)]
row_59 = [(3.26,3.30),(3.91,3.95),(4.69,4.74),(6.18,6.23),(6.24,6.29),(6.53,6.58),(7.29,7.35),(7.59,7.66),(7.83,7.88),(7.91,7.99),(8.44,8.63),(8.70,8.84),(8.94,9.07),(9.49,9.61),(9.89,10.0),(10.08,10.15),(10.30,10.40),(10.55,10.86),(10.95,11.03),(11.10,11.18),(11.20,11.33),(11.38,11.50),(11.53,11.63),(11.88,11.96),(12.13,12.34),(12.44,12.566)]
row_60 = [(3.26,3.30),(3.91,3.95),(4.69,4.74),(4.86,4.89),(5.22,5.26),(6.53,6.58),(6.60,6.64),(6.66,6.71),(6.98,7.02),(7.44,7.52),(7.59,7.66),(8.24,8.30),(8.56,8.64),(8.70,8.77),(8.94,9.09),(9.29,9.43),(9.52,9.59),(9.70,9.77),(9.90,9.97),(10.30,10.38),(10.47,10.63),(10.75,10.83),(11.00,11.13),(11.15,11.28),(11.38,11.51),(11.52,11.61),(11.68,11.76),(11.78,11.86),(11.88,11.96),(12.02,12.11),(12.16,12.31),(12.33,12.43),(12.44,12.566)]
row_61 = [(3.91,3.95),(5.87,5.91),(5.94,5.98),(6.24,6.29),(6.52,6.56),(6.61,6.66),(6.71,6.78),(6.79,6.83),(7.29,7.35),(7.83,7.88),(8.23,8.31),(8.40,8.47),(8.51,8.76),(8.77,8.84),(8.87,8.94),(9.01,9.09),(9.27,9.34),(9.36,9.43),(9.49,9.75),(9.91,9.97),(10.55,10.63),(10.67,10.83),(10.95,11.10),(11.45,11.61),(11.68,11.76),(11.83,11.96),(11.98,12.06),(12.08,12.46),(12.49,12.566)]
row_62 = [(3.91,3.95),(5.87,5.91),(6.24,6.29),(6.51,6.58),(6.64,6.69),(7.49,7.56),(7.60,7.66),(7.84,7.92),(7.94,8.02),(8.59,8.66),(8.69,8.84),(8.86,8.94),(9.14,9.22),(9.49,9.57),(9.89,9.96),(10.07,10.15),(10.55,10.63),(10.77,10.86),(10.95,11.18),(11.43,11.86),(12.10,12.46),(12.49,12.566)]
row_63 = [(3.91,3.95),(5.87,5.91),(7.30,7.35),(7.47,7.53),(7.72,7.78),(7.83,7.88),(7.93,7.99),(8.26,8.33),(8.61,8.70),(8.89,9.02),(9.08,9.16),(9.38,9.43),(9.55,9.62),(9.89,9.97),(9.99,10.08),(10.55,10.68),(10.69,10.77),(10.95,11.18),(11.20,11.32),(11.52,11.63),(11.68,11.76),(11.88,11.95),(11.98,12.06),(12.13,12.46),(12.49,12.566)]
row_64 = [(3.91,3.95),(4.69,4.74),(5.87,5.91),(6.24,6.29),(6.53,6.58),(7.30,7.36),(7.47,7.54),(7.60,7.66),(7.82,7.92),(8.59,8.64),(8.69,8.75),(8.76,8.84),(8.94,9.02),(9.07,9.14),(9.24,9.32),(9.36,9.43),(9.89,10.05),(10.07,10.15),(10.22,10.30),(10.46,10.53),(10.55,10.77),(10.85,10.93),(10.95,11.18),(11.21,11.32),(11.35,11.51),(11.52,11.78),(11.88,11.96),(12.03,12.13),(12.18,12.31),(12.33,12.41),(12.49,12.566)]
row_65 = [(4.69,4.74),(5.87,5.91),(6.24,6.29),(6.99,7.06),(7.29,7.35),(7.47,7.53),(7.59,7.65),(7.83,7.89),(8.19,8.25),(8.39,8.46),(8.67,8.73),(8.77,8.84),(8.93,9.02),(9.49,9.58),(9.59,9.67),(9.84,9.92),(10.44,10.73),(10.75,10.83),(10.85,10.93),(10.95,11.18),(11.52,11.63),(11.70,11.86),(11.88,11.98),(12.03,12.11),(12.43,12.566)]
row_66 = [(3.91,3.95),(4.69,4.74),(6.48,6.50),(7.30,7.35),(7.47,7.54),(7.58,7.66),(7.83,7.89),(7.93,8.02),(8.46,8.51),(8.71,8.87),(8.94,9.07),(9.37,9.43),(9.44,9.58),(9.75,9.82),(9.89,9.97),(10.19,10.27),(10.53,10.77),(10.91,11.16),(11.20,11.28),(11.38,11.46),(11.52,11.75),(12.02,12.11),(12.23,12.49),(12.51,12.566)]
row_67 = [(3.91,3.95),(4.69,4.74),(6.22,6.29),(6.73,6.78),(6.99,7.05),(7.30,7.35),(7.61,7.66),(7.83,7.89),(8.55,8.64),(8.70,8.84),(8.87,8.94),(9.17,9.25),(9.36,9.43),(9.49,9.57),(9.61,9.70),(9.89,10.0),(10.05,10.15),(10.40,10.47),(10.49,10.68),(10.70,10.93),(11.03,11.10),(11.25,11.46),(11.52,11.78),(11.82,11.98),(12.01,12.13),(12.23,12.31),(12.38,12.566)]
row_68 = [(3.91,3.95),(4.69,4.74),(5.86,5.91),(6.24,6.29),(6.51,6.58),(7.31,7.35),(7.49,7.56),(7.83,7.88),(8.39,8.45),(8.59,8.64),(8.70,8.87),(8.89,8.97),(9.16,9.25),(9.27,9.35),(10.07,10.15),(10.17,10.25),(10.35,10.42),(10.53,10.63),(10.70,10.93),(11.03,11.10),(11.20,11.28),(11.30,11.38),(11.52,11.66),(11.68,11.75),(11.88,11.96),(11.98,12.10),(12.13,12.21),(12.23,12.30),(12.33,12.46),(12.51,12.566)]
row_69 = [(3.91,3.95),(4.69,4.74),(6.51,6.58),(6.81,6.88),(7.31,7.35),(7.47,7.55),(7.83,7.88),(8.58,8.66),(8.71,8.75),(8.77,8.84),(8.89,8.98),(9.09,9.22),(9.37,9.43),(9.54,9.64),(9.89,9.97),(10.07,10.15),(10.53,10.68),(10.70,10.77),(10.85,10.93),(10.95,11.03),(11.20,11.28),(11.45,11.63),(11.70,11.78),(11.88,11.95),(11.96,12.10),(12.18,12.30),(12.33,12.566)]
row_70 = [(4.69,4.74),(5.88,5.91),(5.93,5.96),(7.11,7.22),(7.27,7.35),(7.47,7.55),(7.59,7.66),(7.72,7.79),(7.83,7.88),(8.39,8.51),(8.58,8.66),(8.72,8.84),(8.94,9.07),(9.49,9.57),(9.62,9.70),(9.90,9.97),(10.07,10.15),(10.53,10.63),(10.85,10.93),(10.95,11.08),(11.20,11.28),(11.52,11.66),(11.88,11.95),(12.26,12.34),(12.38,12.45),(12.46,12.566)]
row_71 = [(5.86,5.91),(6.16,6.30),(6.52,6.56),(6.66,6.72),(7.01,7.08),(8.44,8.51),(9.14,9.20),(9.37,9.43),(9.49,9.57),(9.89,10.05),(10.08,10.15),(10.53,10.64),(10.85,10.93),(10.95,11.16),(11.20,11.28),(11.52,11.60),(11.70,11.78),(11.82,11.96),(12.0,12.10),(12.18,12.26),(12.43,12.566)]
row_72 = [(3.26,3.30),(3.91,3.95),(5.88,5.91),(6.25,6.29),(6.51,6.58),(6.86,6.93),(7.31,7.35),(7.83,7.88),(8.03,8.11),(8.44,8.51),(8.52,8.66),(8.69,8.84),(8.89,8.96),(9.20,9.26),(9.36,9.43),(9.84,9.92),(10.02,10.15),(10.49,10.93),(10.95,11.03),(11.13,11.33),(11.52,11.63),(11.78,11.95),(12.0,12.10),(12.18,12.26),(12.38,12.46),(12.49,12.566)]
row_73 = [(5.68,5.72),(5.87,5.91),(6.44,6.49),(6.53,6.58),(7.01,7.04),(7.05,7.08),(7.29,7.36),(7.82,7.88),(7.88,7.94),(8.01,8.09),(8.53,8.64),(8.70,8.75),(9.16,9.24),(9.49,9.57),(9.90,9.97),(10.08,10.15),(10.27,10.34),(10.38,10.45),(10.49,10.61),(10.68,10.77),(10.95,11.03),(11.20,11.28),(11.60,11.78),(11.88,11.96),(12.18,12.26),(12.33,12.566)]
row_74 = [(3.91,3.95),(6.52,6.56),(6.89,6.93),(7.29,7.35),(7.60,7.66),(7.83,7.88),(7.94,7.99),(8.02,8.12),(8.39,8.46),(8.56,8.64),(8.70,8.75),(8.76,8.85),(8.90,9.01),(9.09,9.16),(9.19,9.25),(9.36,9.43),(9.77,9.84),(9.89,9.97),(10.07,10.14),(10.53,10.68),(10.69,10.77),(10.86,10.93),(10.95,11.10),(11.20,11.28),(11.55,11.66),(11.68,11.75),(12.0,12.08),(12.23,12.33),(12.38,12.566)]
row_75 = [(3.91,3.95),(5.87,5.91),(6.93,6.99),(7.02,7.08),(7.31,7.35),(7.59,7.64),(7.83,7.88),(8.39,8.51),(8.59,8.64),(8.71,8.84),(8.94,9.02),(9.14,9.21),(9.36,9.43),(9.49,9.57),(9.59,9.67),(9.87,9.97),(10.07,10.15),(10.47,10.68),(10.70,10.93),(10.95,11.13),(11.18,11.28),(11.30,11.46),(11.48,11.61),(11.65,11.73),(11.82,11.95),(12.01,12.08),(12.13,12.34),(12.36,12.46),(12.51,12.566)]

rows = [row_01,row_02,row_03,row_04,row_05,row_06,row_07,row_08,row_09,row_10,row_11,row_12,row_13,row_14,row_15,
        row_16,row_17,row_18,row_19,row_20,row_21,row_22,row_23,row_24,row_25,row_26,row_27,row_28,row_29,row_30,
        row_31,row_32,row_33,row_34,row_35,row_36,row_37,row_38,row_39,row_40,row_41,row_42,row_43,row_44,row_45,
        row_46,row_47,row_48,row_49,row_50,row_51,row_52,row_53,row_54,row_55,row_56,row_57,row_58,row_59,row_60,
        row_61,row_62,row_63,row_64,row_65,row_66,row_67,row_68,row_69,row_70,row_71,row_72,row_73,row_74,row_75]

x0, x1, yy = [], [], []
for n, row in enumerate(rows, start=1):
    for a, b in row:
        x0.append(a); x1.append(b); yy.append(n)

FONT = "Liberation Sans"
GRAY = "#666666"
LEFT_W = 112
MAIN_H = 1830
BOTTOM_H = 99
TOTAL = 1921

p = figure(width=TOTAL - LEFT_W, height=MAIN_H, output_backend="svg", toolbar_location=None,
           x_range=Range1d(0, 4 * 3.14159265), y_range=Range1d(-1.07, 75.57),
           min_border_left=193 - LEFT_W, min_border_right=TOTAL - 1900, min_border_top=26,
           min_border_bottom=MAIN_H - 1733,
           background_fill_color="white", border_fill_color="white")
p.grid.visible = False
p.outline_line_color = None

src = ColumnDataSource(dict(x0=x0, x1=x1, y=yy))
p.segment("x0", "y", "x1", "y", source=src, line_color="black", line_width=4.5, line_cap="butt")
p.segment([a for a, b in row_01], [1] * len(row_01), [b for a, b in row_01], [1] * len(row_01),
          line_color="black", line_width=5.5, line_cap="butt")

def style(ax, ticks, minor, labels=True):
    ax.ticker = FixedTicker(ticks=ticks, minor_ticks=minor)
    ax.axis_line_color = GRAY
    ax.axis_line_width = 2
    ax.major_tick_line_color = "black"
    ax.minor_tick_line_color = "black"
    ax.major_tick_line_width = 2
    ax.minor_tick_line_width = 2
    ax.major_tick_in = 17
    ax.major_tick_out = 0
    ax.minor_tick_in = 11
    ax.minor_tick_out = 0
    if labels:
        ax.major_label_text_font = FONT
        ax.major_label_text_font_size = "55px"
        ax.major_label_text_color = "black"
    else:
        ax.major_label_overrides = {t: "" for t in ticks}
        ax.major_label_text_font_size = "1px"
        ax.major_label_standoff = 0

style(p.xaxis[0], x_ticks, x_minor)
style(p.yaxis[0], y_ticks, y_minor)
p.xaxis[0].major_label_standoff = 25
p.yaxis[0].major_label_standoff = 10

top = LinearAxis(); style(top, x_ticks, x_minor, labels=False); p.add_layout(top, "above")
right = LinearAxis(); style(right, y_ticks, y_minor, labels=False); p.add_layout(right, "right")

def blank(w, h, xr, yr):
    f = figure(width=w, height=h, output_backend="svg", toolbar_location=None,
               x_range=Range1d(*xr), y_range=Range1d(*yr),
               min_border_left=0, min_border_right=0, min_border_top=0, min_border_bottom=0,
               x_axis_location=None, y_axis_location=None)
    f.grid.visible = False
    f.outline_line_color = None
    return f

# title strips, their ranges are page pixels
left = blank(LEFT_W, MAIN_H, (0, LEFT_W), (MAIN_H, 0))
bottom = blank(TOTAL, BOTTOM_H, (0, TOTAL), (MAIN_H + BOTTOM_H, MAIN_H))

def lab(fig, text, px, py, size, style_="normal", angle=90):
    fig.text([px], [py], text=[text], text_font=value(FONT), text_font_size=f"{size}px",
             text_font_style=style_, text_color="black", angle=angle, angle_units="deg",
             text_align="center", text_baseline="middle")

lab(bottom, x_title, 1046, 1880, 79, "italic", angle=0)
lab(left, "N", 56, 1083, 79, "italic")
lab(left, "[", 56, 1026, 79)
lab(left, "|", 56, 1000, 79)
lab(left, "x", 56, 970, 79, "italic")
lab(left, "N", 73, 918, 57, "italic")
lab(left, "|", 56, 868, 79)
lab(left, "≤", 56, 833, 79)
lab(left, "1", 56, 769, 79)
lab(left, "]", 56, 720, 79)

page = column(hrow(left, p, spacing=0), bottom, spacing=0)
open("out.html", "w").write(file_html(page, INLINE))
